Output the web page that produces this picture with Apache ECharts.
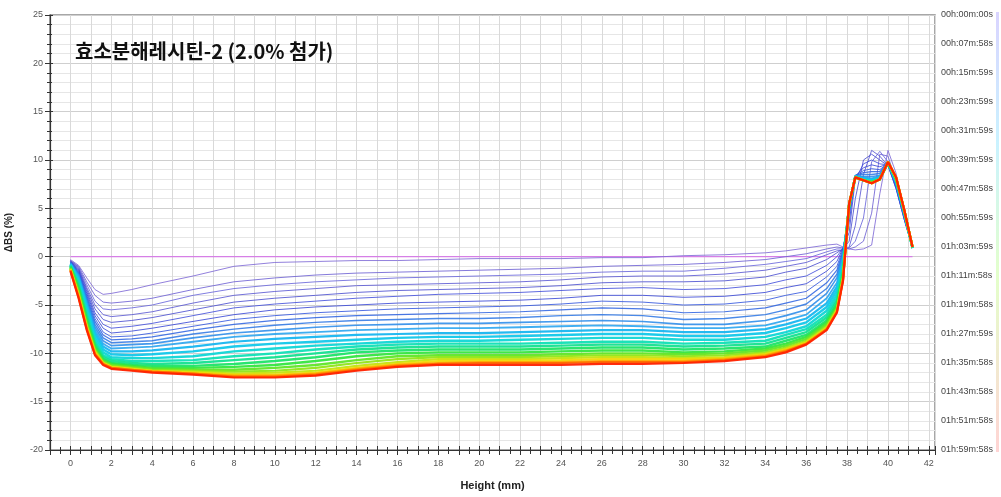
<!DOCTYPE html>
<html>
<head>
<meta charset="utf-8">
<script src="https://cdn.jsdelivr.net/npm/echarts@6/dist/echarts.min.js"></script>
<style>html,body{margin:0;padding:0;background:#fff;}#c{width:1001px;height:497px;}</style>
</head>
<body>
<div id="c"></div>
<script>
// ---- DATA ----
const heights = [0,0.4,0.8,1.2,1.6,2,3,4,6,8,10,12,14,16,18,20,22,24,26,28,30,32,34,35,36,37,37.5,37.8,38.1,38.4,38.8,39.2,39.6,40,40.4,40.8,41.2];
const baseline = [0, 0, 41.2];
const timeLabels = ['00h:00m:00s','00h:07m:58s','00h:15m:59s','00h:23m:59s','00h:31m:59s','00h:39m:59s','00h:47m:58s','00h:55m:59s','01h:03m:59s','01h:11m:58s','01h:19m:58s','01h:27m:59s','01h:35m:58s','01h:43m:58s','01h:51m:58s','01h:59m:58s'];

const scan01 = [-0.3,-0.9,-2.2,-3.4,-3.9,-3.8,-3.4,-2.9,-2.0,-1.0,-0.6,-0.5,-0.4,-0.4,-0.3,-0.2,-0.2,-0.2,-0.1,-0.1,0.1,0.2,0.4,0.6,0.9,1.2,1.3,1.0,0.8,0.7,0.8,1.2,6.5,11.0,8.6,4.6,1.2];
const scan02 = [-0.4,-1.0,-2.6,-4.0,-4.7,-4.8,-4.6,-4.3,-3.4,-2.6,-2.2,-1.9,-1.7,-1.6,-1.5,-1.4,-1.3,-1.2,-1.0,-0.9,-0.8,-0.6,-0.3,0,0.3,0.8,1.0,0.9,0.8,1.0,1.6,4.5,10.6,10.4,7.8,4.2,1.1];
const scan03 = [-0.4,-1.1,-2.9,-4.6,-5.4,-5.5,-5.3,-5.0,-4.0,-3.3,-2.9,-2.6,-2.4,-2.2,-2.1,-2.0,-1.9,-1.8,-1.6,-1.5,-1.5,-1.2,-0.8,-0.5,-0.2,0.5,0.8,0.8,0.9,1.6,4.0,9.8,10.9,9.8,7.4,4.0,1.0];
const scan04 = [-0.4,-1.2,-3.2,-5.0,-6.0,-6.2,-6.0,-5.7,-4.8,-4.0,-3.6,-3.3,-3.0,-2.9,-2.8,-2.7,-2.6,-2.4,-2.1,-2.0,-2.0,-1.8,-1.4,-1.0,-0.6,0.2,0.6,0.7,1.0,3.2,8.5,11.0,10.4,9.4,7.2,3.9,1.0];
const scan05 = [-0.5,-1.3,-3.4,-5.4,-6.5,-6.8,-6.6,-6.3,-5.5,-4.7,-4.3,-4.0,-3.7,-3.5,-3.4,-3.3,-3.2,-3.0,-2.7,-2.6,-2.6,-2.5,-2.1,-1.6,-1.2,-0.3,0.4,0.8,1.6,6.0,10.0,10.6,10.0,9.4,7.0,3.8,0.9];
const scan06 = [-0.5,-1.4,-3.6,-5.8,-7.0,-7.4,-7.2,-6.9,-6.1,-5.3,-4.9,-4.6,-4.3,-4.1,-3.9,-3.8,-3.7,-3.5,-3.3,-3.2,-3.4,-3.3,-2.9,-2.4,-2.0,-0.9,0,0.9,2.5,8.0,9.6,10.0,9.6,9.5,7.0,3.8,0.9];
const scan07 = [-0.5,-1.5,-3.8,-6.1,-7.4,-7.9,-7.7,-7.4,-6.7,-6.0,-5.5,-5.2,-5.0,-4.8,-4.7,-4.6,-4.5,-4.3,-4.0,-4.0,-4.2,-4.1,-3.7,-3.2,-2.8,-1.5,-0.5,0.9,3.5,8.3,9.2,9.5,9.3,9.6,7.1,3.9,0.9];
const scan08 = [-0.6,-1.6,-4.0,-6.4,-7.8,-8.3,-8.2,-7.9,-7.2,-6.5,-6.1,-5.8,-5.6,-5.4,-5.3,-5.2,-5.1,-4.9,-4.6,-4.7,-5.0,-4.9,-4.5,-4.0,-3.6,-2.1,-1.0,0.8,4.2,8.4,8.9,9.1,9.0,9.7,7.2,4.0,0.9];
const scan09 = [-0.6,-1.7,-4.2,-6.7,-8.1,-8.6,-8.5,-8.3,-7.6,-7.0,-6.6,-6.3,-6.1,-6.0,-5.9,-5.8,-5.7,-5.5,-5.3,-5.4,-5.8,-5.7,-5.3,-4.8,-4.3,-2.7,-1.4,0.6,4.6,8.4,8.7,8.8,8.8,9.7,7.3,4.1,0.9];
const scan10 = [-0.6,-1.8,-4.4,-7.0,-8.4,-8.9,-8.8,-8.7,-8.0,-7.5,-7.1,-6.8,-6.6,-6.5,-6.4,-6.4,-6.3,-6.1,-6.0,-6.1,-6.5,-6.4,-6.0,-5.5,-4.9,-3.3,-1.8,0.4,4.9,8.4,8.5,8.5,8.6,9.7,7.4,4.2,0.9];
const scan11 = [-0.7,-1.9,-4.6,-7.3,-8.7,-9.2,-9.1,-9.0,-8.4,-7.9,-7.6,-7.3,-7.1,-7.0,-6.9,-6.9,-6.8,-6.7,-6.6,-6.7,-7.0,-7.0,-6.6,-6.1,-5.5,-3.8,-2.2,0.2,5.0,8.3,8.3,8.3,8.4,9.7,7.5,4.3,0.9];
const scan12 = [-0.7,-2.0,-4.8,-7.6,-9.0,-9.5,-9.4,-9.3,-8.8,-8.3,-8.0,-7.8,-7.6,-7.5,-7.4,-7.4,-7.3,-7.2,-7.1,-7.2,-7.4,-7.4,-7.1,-6.6,-6.0,-4.3,-2.7,0,5.1,8.3,8.2,8.1,8.3,9.7,7.6,4.4,0.9];
const scan13 = [-0.8,-2.2,-5.0,-7.9,-9.3,-9.8,-9.8,-9.7,-9.3,-8.8,-8.5,-8.3,-8.1,-8.0,-7.9,-7.9,-7.8,-7.7,-7.6,-7.6,-7.8,-7.8,-7.5,-7.0,-6.4,-4.8,-3.1,-0.3,5.2,8.3,8.1,8.0,8.2,9.7,7.7,4.5,0.9];
const scan14 = [-0.8,-2.4,-5.3,-8.2,-9.6,-10.1,-10.2,-10.1,-9.8,-9.3,-9.0,-8.8,-8.6,-8.4,-8.3,-8.3,-8.2,-8.1,-8.0,-8.0,-8.2,-8.2,-7.9,-7.4,-6.8,-5.2,-3.5,-0.6,5.2,8.3,8.0,7.9,8.1,9.7,7.8,4.5,0.9];
const scan15 = [-0.9,-2.6,-5.6,-8.5,-9.9,-10.4,-10.5,-10.5,-10.3,-9.8,-9.5,-9.2,-9.0,-8.8,-8.7,-8.7,-8.6,-8.5,-8.4,-8.4,-8.6,-8.6,-8.3,-7.8,-7.2,-5.6,-3.9,-0.9,5.3,8.3,8.0,7.8,8.1,9.7,7.9,4.6,0.9];
const scan16 = [-0.9,-2.8,-5.9,-8.8,-10.2,-10.6,-10.8,-10.8,-10.7,-10.3,-10.0,-9.6,-9.3,-9.1,-9.0,-9.0,-9.0,-8.9,-8.8,-8.8,-9.0,-8.9,-8.7,-8.1,-7.5,-6.0,-4.3,-1.2,5.3,8.3,7.9,7.8,8.0,9.7,7.9,4.6,0.9];
const scan17 = [-1.0,-3.0,-6.2,-9.0,-10.4,-10.8,-11.0,-11.1,-11.0,-10.7,-10.4,-10.0,-9.6,-9.4,-9.3,-9.3,-9.3,-9.2,-9.1,-9.1,-9.3,-9.2,-9.0,-8.4,-7.8,-6.3,-4.6,-1.5,5.4,8.2,7.9,7.7,8.0,9.7,8.0,4.7,0.9];
const scan18 = [-1.0,-3.2,-6.4,-9.2,-10.6,-11.0,-11.2,-11.3,-11.3,-11.1,-10.8,-10.4,-9.9,-9.7,-9.6,-9.6,-9.6,-9.5,-9.4,-9.4,-9.6,-9.5,-9.3,-8.7,-8.1,-6.6,-4.9,-1.7,5.4,8.2,7.9,7.7,8.0,9.8,8.0,4.7,1.0];
const scan19 = [-1.1,-3.4,-6.7,-9.4,-10.7,-11.1,-11.3,-11.5,-11.5,-11.4,-11.2,-10.8,-10.3,-10.0,-9.9,-9.9,-9.9,-9.8,-9.7,-9.7,-9.9,-9.8,-9.5,-9.0,-8.3,-6.8,-5.1,-1.9,5.4,8.2,7.9,7.7,8.0,9.8,8.0,4.7,1.0];
const scan20 = [-1.2,-3.6,-6.9,-9.6,-10.8,-11.2,-11.4,-11.6,-11.7,-11.7,-11.5,-11.2,-10.7,-10.3,-10.2,-10.2,-10.2,-10.1,-10.0,-10.0,-10.1,-10.0,-9.7,-9.2,-8.5,-7.0,-5.3,-2.0,5.4,8.2,7.9,7.7,8.0,9.8,8.1,4.7,1.0];
const scan21 = [-1.2,-3.8,-7.1,-9.7,-10.9,-11.3,-11.5,-11.7,-11.8,-11.9,-11.8,-11.5,-11.0,-10.6,-10.4,-10.4,-10.4,-10.3,-10.2,-10.2,-10.3,-10.2,-9.9,-9.4,-8.7,-7.2,-5.4,-2.1,5.4,8.2,7.9,7.6,8.0,9.8,8.1,4.7,1.0];
const scan22 = [-1.3,-3.9,-7.2,-9.8,-11.0,-11.4,-11.6,-11.8,-11.9,-12.1,-12.0,-11.8,-11.3,-10.9,-10.6,-10.6,-10.6,-10.5,-10.4,-10.4,-10.5,-10.4,-10.0,-9.5,-8.8,-7.3,-5.5,-2.2,5.5,8.2,7.9,7.6,8.0,9.8,8.1,4.8,1.0];
const scan23 = [-1.3,-4.0,-7.3,-9.9,-11.0,-11.4,-11.6,-11.8,-12.0,-12.2,-12.2,-12.0,-11.5,-11.1,-10.8,-10.75,-10.75,-10.7,-10.6,-10.6,-10.6,-10.5,-10.1,-9.6,-8.9,-7.4,-5.6,-2.3,5.5,8.2,7.9,7.6,8.0,9.8,8.2,4.8,1.0];
const scan24 = [-1.4,-4.1,-7.4,-10.0,-11.1,-11.5,-11.7,-11.9,-12.1,-12.3,-12.3,-12.1,-11.6,-11.2,-11.0,-10.9,-10.9,-10.9,-10.8,-10.8,-10.8,-10.6,-10.2,-9.7,-9.0,-7.5,-5.7,-2.4,5.5,8.2,7.9,7.6,8.0,9.8,8.2,4.8,1.0];
const scan25 = [-1.4,-4.2,-7.5,-10.1,-11.1,-11.5,-11.7,-11.9,-12.1,-12.4,-12.4,-12.2,-11.7,-11.3,-11.1,-11.0,-11.0,-11.0,-10.9,-10.9,-10.9,-10.7,-10.3,-9.8,-9.0,-7.5,-5.7,-2.4,5.5,8.2,7.9,7.6,8.0,9.8,8.2,4.8,1.0];
const scan26 = [-1.5,-4.3,-7.6,-10.2,-11.2,-11.6,-11.8,-12.0,-12.2,-12.5,-12.5,-12.3,-11.8,-11.4,-11.2,-11.2,-11.2,-11.2,-11.1,-11.1,-11.0,-10.8,-10.4,-9.9,-9.1,-7.6,-5.8,-2.5,5.5,8.2,7.9,7.6,8.0,9.8,8.2,4.8,1.0];

const scans = [scan01,scan02,scan03,scan04,scan05,scan06,scan07,scan08,scan09,scan10,scan11,scan12,scan13,scan14,scan15,scan16,scan17,scan18,scan19,scan20,scan21,scan22,scan23,scan24,scan25,scan26];

// ---- STYLE ----
const palette = ['#7f6ad6','#6e62d4','#6a66da','#5a58d2','#4c50d0','#4450da','#3a48d6','#3356de','#2c62e0','#2a74e4','#2488ea','#1ea0ee','#18b6f0','#12c8ea','#10d6d6','#10e0b6','#14e290','#1ee468','#34e640','#60e628','#90e618','#c4e410','#f0d808','#ffa800','#ff6a00','#ff2200'];
const widths = [1,1,1,1,1,1,1,1,1.2,1.4,1.6,1.8,2.2,2.4,2.4,2.4,2.4,2.4,2.4,2.4,2.2,2.2,2.2,2.2,2.2,2.2];
const FONT = 'Liberation Sans, Arial, sans-serif';

const series = [{
  type: 'line',
  data: [[baseline[1], baseline[0]], [baseline[2], baseline[0]]],
  showSymbol: false, silent: true,
  lineStyle: {color: '#d67fe6', width: 1.2},
  z: 1
}];
scans.forEach((s, i) => {
  series.push({
    type: 'line',
    data: heights.map((h, k) => [h, s[k]]),
    showSymbol: false, silent: true,
    lineStyle: {color: palette[i], width: widths[i], opacity: i < 12 ? 0.85 : 0.95},
    z: 2 + i
  });
});

const chart = echarts.init(document.getElementById('c'), null, {renderer: 'canvas'});
chart.setOption({
  animation: false,
  backgroundColor: '#fff',
  title: {
    text: '효소분해레시틴-2 (2.0% 첨가)',
    left: 70, top: 36,
    textStyle: {fontFamily: 'Noto Sans CJK KR', fontWeight: 'bold', fontSize: 20, color: '#111'}
  },
  grid: {left: 50, right: 66, top: 15, bottom: 47, show: true, borderColor: '#8a8a8a', borderWidth: 1.5, outerBoundsMode: 'none', containLabel: false},
  xAxis: [{
    type: 'value', min: -1, max: 42.3, interval: 1,
    name: 'Height (mm)', nameLocation: 'middle', nameGap: 30,
    nameTextStyle: {fontFamily: FONT, fontWeight: 'bold', fontSize: 11, color: '#222'},
    axisLine: {show: true, onZero: false, lineStyle: {color: '#333', width: 1.2}},
    axisTick: {show: true, length: 5, lineStyle: {color: '#333'}},
    minorTick: {show: true, splitNumber: 2, length: 4, lineStyle: {color: '#333'}},
    axisLabel: {
      fontFamily: FONT, fontSize: 9, color: '#555', margin: 9,
      formatter: v => (v >= 0 && v <= 42 && Math.abs(v % 2) < 1e-9) ? String(v) : ''
    },
    splitLine: {show: true, lineStyle: {color: '#d9d9d9', width: 1}},
    minorSplitLine: {show: false}
  }, {
    type: 'value', min: -1, max: 42.3, interval: 1, position: 'bottom',
    axisLine: {show: false, onZero: false},
    axisTick: {show: true, inside: true, length: 4, lineStyle: {color: '#333'}},
    minorTick: {show: true, splitNumber: 2, length: 3, lineStyle: {color: '#333'}},
    axisLabel: {show: false}, splitLine: {show: false}
  }],
  yAxis: [{
    type: 'value', min: -20, max: 25, interval: 5,
    name: 'ΔBS (%)', nameLocation: 'middle', nameGap: 36, nameRotate: 90,
    nameTextStyle: {fontFamily: FONT, fontWeight: 'bold', fontSize: 10, color: '#222'},
    axisLine: {show: true, onZero: false, lineStyle: {color: '#333', width: 1.2}},
    axisTick: {show: true, length: 5, lineStyle: {color: '#333'}},
    minorTick: {show: true, splitNumber: 5, length: 3, lineStyle: {color: '#333'}},
    axisLabel: {fontFamily: FONT, fontSize: 9, color: '#555', margin: 7},
    splitLine: {show: true, lineStyle: {color: '#cfcfcf', width: 1}},
    minorSplitLine: {show: true, lineStyle: {color: '#e6e6e6', width: 1}}
  }, {
    type: 'category', data: timeLabels, position: 'right', inverse: true, boundaryGap: false,
    axisLine: {show: false, onZero: false}, axisTick: {show: false}, splitLine: {show: false},
    axisLabel: {fontFamily: FONT, fontSize: 9, color: '#444', margin: 6, interval: 0}
  }, {
    type: 'value', min: -20, max: 25, interval: 5, position: 'left',
    axisLine: {show: false, onZero: false},
    axisTick: {show: true, inside: true, length: 3, lineStyle: {color: '#333'}},
    minorTick: {show: true, splitNumber: 5, length: 2, lineStyle: {color: '#333'}},
    axisLabel: {show: false}, splitLine: {show: false}
  }],
  graphic: [{
    type: 'rect', left: 996, top: 12, shape: {width: 3, height: 440}, silent: true,
    style: {
      fill: new echarts.graphic.LinearGradient(0, 0, 0, 1, [
        {offset: 0, color: 'rgba(180,170,255,0.5)'},
        {offset: 0.3, color: 'rgba(150,230,255,0.5)'},
        {offset: 0.6, color: 'rgba(200,255,150,0.5)'},
        {offset: 1, color: 'rgba(255,170,170,0.5)'}
      ])
    }
  }],
  series: series
});
</script>
</body>
</html>
